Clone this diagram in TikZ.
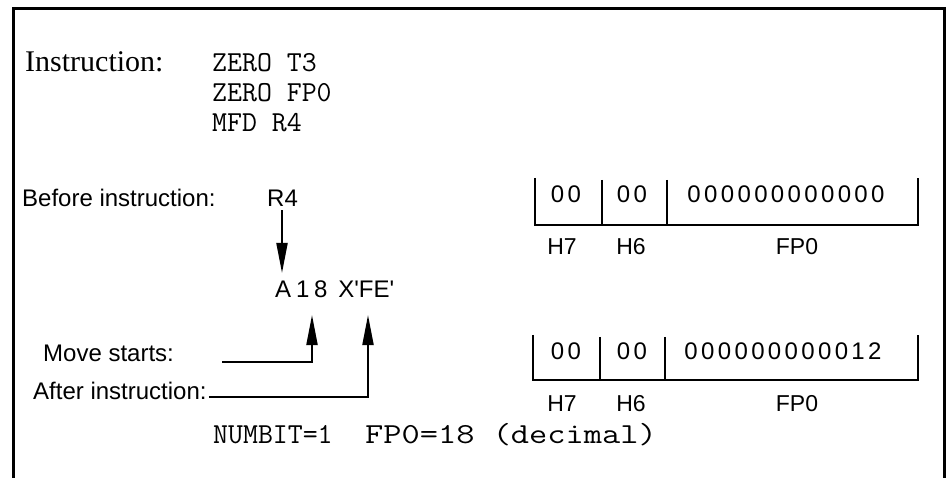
\documentclass[tikz,border=0pt]{standalone}
\usepackage{graphicx}
\usepackage{fontspec}
\setmainfont{Liberation Serif}
\newfontfamily\helv{Liberation Sans}
\newfontfamily\helvsp[LetterSpace=14]{Liberation Sans}
\newfontfamily\helvmem[LetterSpace=20]{Liberation Sans}
\usetikzlibrary{arrows.meta}
\begin{document}
\begin{tikzpicture}[x=1bp,y=-1bp,
  serif/.style={font=\fontsize{30bp}{32bp}\selectfont, inner sep=0pt, anchor=base west},
  mono/.style={font=\ttfamily\fontsize{29bp}{31bp}\selectfont, inner sep=0pt, anchor=base west},
  sans/.style={font=\helv\fontsize{24bp}{26bp}\selectfont, inner sep=0pt, anchor=base west},
  lbl/.style={font=\helv\fontsize{23bp}{25bp}\selectfont, inner sep=0pt, anchor=base},
  digits/.style={font=\helvsp\fontsize{24bp}{26bp}\selectfont, inner sep=0pt, anchor=base},
  frame/.style={line width=3bp},
  reg/.style={line width=2.5bp},
  arr/.style={line width=2bp, -{Triangle[length=30bp,width=11bp]}}
]
\useasboundingbox (0,0) rectangle (948,478);
\draw[frame] (13,478) -- (13,9) -- (944,9) -- (944,478);

% instruction lines
\node[serif] (ins) at (25,72) {Instruction:};
\node[mono] (l1) at (212,72) {ZERO T3};
\node[mono] (l2) at (212,102) {ZERO FP0};
\node[mono] (l3) at (212,132) {MFD R4};

% before
\node[sans] (bef) at (22,207) {Before instruction:};
\node[sans] (r4) at (267,207) {R4};
\node[sans] (mem) at (275,298) {{\helvmem A18}\hspace{0.45em}X'FE'};
\coordinate (t1) at (282,273);
\draw[arr] (r4.south -| t1) ++(0,3) -- (t1);

% register 1
\draw[reg] (535,178) -- (535,225) -- (918,225) -- (918,178);
\draw[reg] (602,180) -- (602,225);
\draw[reg] (667,180) -- (667,225);
\node[digits] (a7) at (566,203) {00};
\node[digits] (a6) at (632,203) {00};
\node[digits] (afp) at (786,203) {000000000000};
\node[lbl] (h7a) at (562,255) {H7};
\node[lbl] (h6a) at (631,255) {H6};
\node[lbl] (fpa) at (797,255) {FP0};

% move starts / after
\node[sans] (ms) at (43,362) {Move starts:};
\node[sans] (ai) at (33,399) {After instruction:};
\coordinate (s1) at (222,362);
\coordinate (t2) at (312,315);
\coordinate (s2) at ([xshift=2bp,yshift=2bp]ai.base east);
\coordinate (t3) at (368,315);
\draw[arr] (s1) -| (t2);
\draw[arr] (s2) -| (t3);

% register 2
\draw[reg] (533,335) -- (533,380) -- (918,380) -- (918,335);
\draw[reg] (600,337) -- (600,380);
\draw[reg] (665,337) -- (665,380);
\node[digits] (b7) at (566,360) {00};
\node[digits] (b6) at (632,360) {00};
\node[digits] (bfp) at (783,360) {000000000012};
\node[lbl] (h7b) at (562,411) {H7};
\node[lbl] (h6b) at (631,411) {H6};
\node[lbl] (fpb) at (797,411) {FP0};

% bottom line
\node[mono] (nb) at (213,443) {NUMBIT=1};
\node[mono] (fp) at (365,443) {\scalebox{1.22}[1]{FP0=18 (decimal)}};
\end{tikzpicture}
\end{document}
